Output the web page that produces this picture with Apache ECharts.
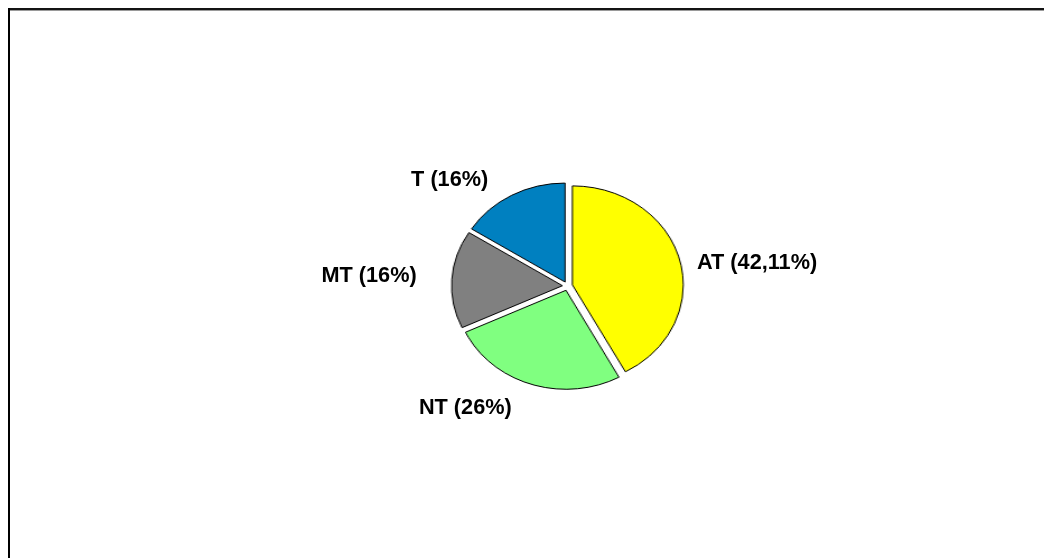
<!DOCTYPE html>
<html>
<head>
<meta charset="utf-8">
<script src="https://cdn.jsdelivr.net/npm/echarts@6/dist/echarts.min.js"></script>
<style>
  html, body { margin: 0; padding: 0; background: #ffffff; }
  #stage { position: relative; width: 1044px; height: 558px; overflow: hidden; }
  .layer { position: absolute; left: 0; top: 0; width: 1044px; height: 558px; }
  /* the pie is drawn as an ellipse: stretch the slice layer horizontally about the pie centre */
  #slices { transform: scaleX(1.12); transform-origin: 567.5px 286px; }
</style>
</head>
<body>
<div id="stage">
  <div id="slices" class="layer"></div>
  <div id="labels" class="layer"></div>
</div>
<script>
// Shares of the four groups
const categories = ['AT', 'NT', 'MT', 'T'];
const shares = [42.11, 26, 16, 16];
const shareText = ['42,11%', '26%', '16%', '16%'];
const sliceColors = ['#FFFF00', '#80FF80', '#808080', '#0080C0'];

// Label placement along each slice's mid-angle (radial reach, horizontal run)
const labelReach = [69.2, 109.5, 119.5, 99.8];
const labelRun = [43.6, 14.9, 11.1, 21.1];

const pieCentre = [567.5, 286];
const labelCentre = [567, 285];

// Slice layer: exploded pie with thin black outlines
const sliceChart = echarts.init(document.getElementById('slices'), null, { renderer: 'canvas' });
sliceChart.setOption({
  animation: false,
  series: [{
    type: 'pie',
    center: pieCentre,
    radius: 99,
    startAngle: 90,
    clockwise: true,
    silent: true,
    selectedMode: 'multiple',
    selectedOffset: 4.5,
    label: { show: false },
    labelLine: { show: false },
    emphasis: { disabled: true },
    itemStyle: { borderColor: '#000000', borderWidth: 1 },
    data: categories.map((name, i) => ({
      name: name,
      value: shares[i],
      selected: true,
      itemStyle: { color: sliceColors[i] },
      select: { itemStyle: { color: sliceColors[i], borderColor: '#000000', borderWidth: 1 } }
    }))
  }]
});

// Label layer: same pie, invisible sectors, only the category labels, plus the frame
const labelChart = echarts.init(document.getElementById('labels'), null, { renderer: 'canvas' });
labelChart.setOption({
  animation: false,
  graphic: [
    { type: 'rect', shape: { x: 8, y: 8, width: 1036, height: 2 }, style: { fill: '#141414' }, silent: true },
    { type: 'rect', shape: { x: 8, y: 10, width: 1036, height: 1 }, style: { fill: '#9a9a9a' }, silent: true },
    { type: 'rect', shape: { x: 8, y: 8, width: 2, height: 550 }, style: { fill: '#000000' }, silent: true }
  ],
  series: [{
    type: 'pie',
    center: labelCentre,
    radius: 20,
    startAngle: 90,
    clockwise: true,
    silent: true,
    avoidLabelOverlap: false,
    emphasis: { disabled: true },
    itemStyle: { color: 'rgba(0,0,0,0)', borderWidth: 0 },
    label: {
      show: true,
      position: 'outside',
      distanceToLabelLine: 0,
      color: '#000000',
      fontFamily: '"Liberation Sans", Arial, sans-serif',
      fontWeight: 'bold',
      fontSize: 21.7,
      formatter: (p) => p.name + ' (' + shareText[p.dataIndex] + ')'
    },
    data: categories.map((name, i) => ({
      name: name,
      value: shares[i],
      labelLine: { show: false, length: labelReach[i], length2: labelRun[i] }
    }))
  }]
});
</script>
</body>
</html>
